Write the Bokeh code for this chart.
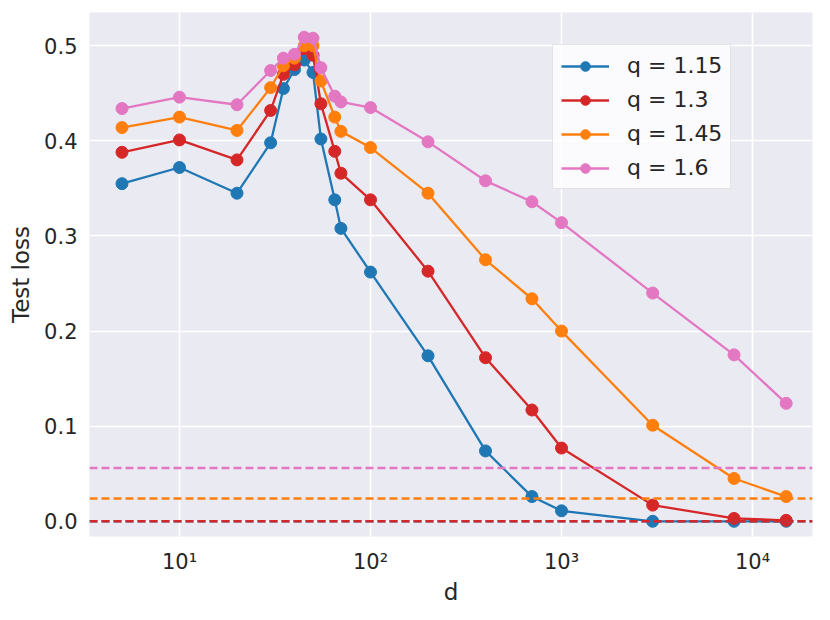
from bokeh.plotting import figure
from bokeh.models import Range1d, FixedTicker, CustomJSTickFormatter, Span, Title
from bokeh.embed import file_html
from bokeh.resources import INLINE

# ---- data ----
d = [5, 10, 20, 30, 35, 40, 45, 50, 55, 65, 70, 100, 200, 400, 700, 1000, 3000, 8000, 15000]
labels = ["q = 1.15", "q = 1.3", "q = 1.45", "q = 1.6"]
loss_115 = [0.355, 0.372, 0.345, 0.398, 0.455, 0.475, 0.485, 0.472, 0.402, 0.338, 0.308, 0.262, 0.174, 0.074, 0.026, 0.011, 0.000, 0.000, 0.000]
loss_130 = [0.388, 0.401, 0.380, 0.432, 0.470, 0.480, 0.497, 0.490, 0.439, 0.389, 0.366, 0.338, 0.263, 0.172, 0.117, 0.077, 0.017, 0.003, 0.001]
loss_145 = [0.414, 0.425, 0.411, 0.456, 0.479, 0.487, 0.500, 0.500, 0.463, 0.425, 0.410, 0.393, 0.345, 0.275, 0.234, 0.200, 0.101, 0.045, 0.026]
loss_160 = [0.434, 0.446, 0.438, 0.474, 0.487, 0.491, 0.509, 0.508, 0.477, 0.447, 0.441, 0.435, 0.399, 0.358, 0.336, 0.314, 0.240, 0.175, 0.124]
baselines = [0.0, 0.0, 0.024, 0.056]
colors = ["#1f77b4", "#d62728", "#ff7f0e", "#e377c2"]
x_ticks = [10, 100, 1000, 10000]
y_ticks = [0.0, 0.1, 0.2, 0.3, 0.4, 0.5]
x_title = "d"
y_title = "Test loss"

series = [loss_115, loss_130, loss_145, loss_160]

FONT = "DejaVu Sans"
TXT = "#262626"

p = figure(width=814, height=604, x_axis_type="log",
           x_range=Range1d(3.38, 20600), y_range=Range1d(-0.016, 0.535),
           output_backend="svg", toolbar_location=None,
           min_border_left=89, min_border_right=2, min_border_top=12, min_border_bottom=61)
p.background_fill_color = "#EAEAF2"
p.border_fill_color = "white"
p.outline_line_color = None

for ys, c, lab in zip(series, colors, labels):
    p.line(d, ys, line_color=c, line_width=2.3, legend_label=lab)
    p.scatter(d, ys, size=12, fill_color=c, line_color=c, legend_label=lab)

for b, c in zip(baselines, colors):
    p.add_layout(Span(location=b, dimension="width", line_color=c,
                      line_width=2.6, line_dash="8 4"))

p.xaxis.ticker = FixedTicker(ticks=x_ticks, minor_ticks=[])
p.xaxis.formatter = CustomJSTickFormatter(code="""
const sup = {"0":"\u2070","1":"\u00b9","2":"\u00b2","3":"\u00b3","4":"\u2074","5":"\u2075"};
const e = Math.round(Math.log10(tick));
return "10" + String(e).split("").map(c => sup[c]).join("");
""")
p.yaxis.ticker = FixedTicker(ticks=y_ticks, minor_ticks=[])
p.yaxis.formatter = CustomJSTickFormatter(code="return tick.toFixed(1);")

for ax in (p.xaxis[0], p.yaxis[0]):
    ax.axis_line_color = None
    ax.major_tick_line_color = None
    ax.minor_tick_line_color = None
    ax.major_label_text_font = FONT
    ax.major_label_text_font_size = "21px"
    ax.major_label_text_color = TXT
    ax.axis_label_text_font = FONT
    ax.axis_label_text_font_size = "23px"
    ax.axis_label_text_font_style = "normal"
    ax.axis_label_text_color = TXT

p.yaxis.axis_label = y_title
p.xaxis.major_label_standoff = 7
p.yaxis.major_label_standoff = 6
p.yaxis.axis_label_standoff = 7

p.add_layout(Title(text=x_title, align="center", text_font=FONT, text_font_size="23px",
                   text_font_style="normal", text_color=TXT, standoff=0, offset=0), "below")

p.grid.grid_line_color = "white"
p.grid.grid_line_width = 1.6
p.xgrid.ticker = FixedTicker(ticks=x_ticks)
p.ygrid.ticker = FixedTicker(ticks=y_ticks)

lg = p.legend[0]
lg.location = (463, 347)
lg.background_fill_color = "white"
lg.background_fill_alpha = 0.8
lg.border_line_color = "#cccccc"
lg.border_line_width = 1.2
lg.label_text_font = FONT
lg.label_text_font_size = "22px"
lg.label_text_color = TXT
lg.glyph_width = 48
lg.glyph_height = 24
lg.label_height = 24
lg.label_standoff = 18
lg.spacing = 9
lg.padding = 8
lg.margin = 0

open("out.html", "w").write(file_html(p, INLINE))
